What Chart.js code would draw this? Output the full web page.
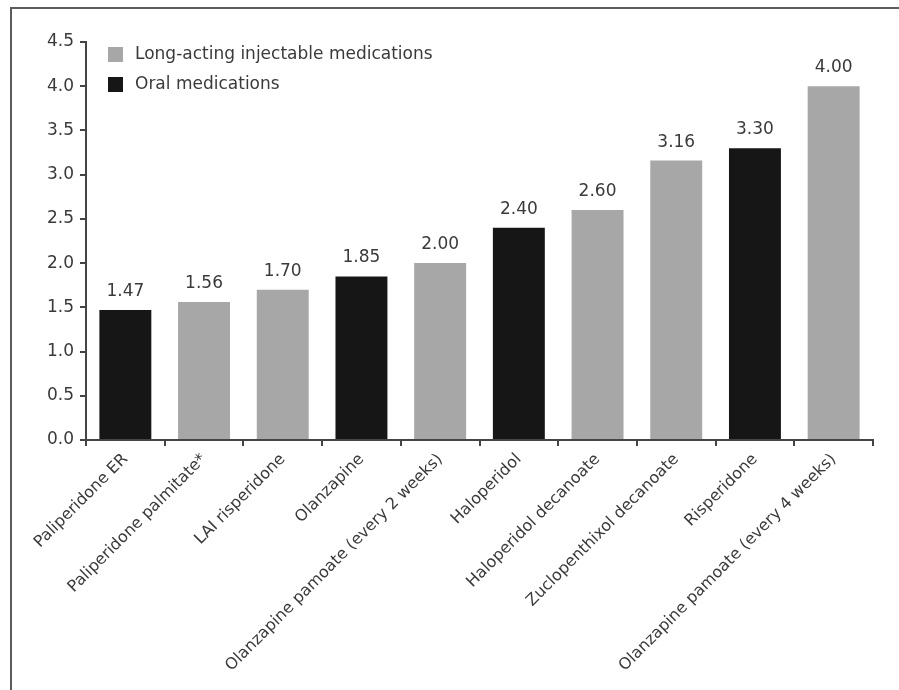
<!DOCTYPE html>
<html>
<head>
<meta charset="utf-8">
<script src="https://cdn.jsdelivr.net/npm/chart.js@4/dist/chart.umd.min.js"></script>
<style>
  html, body { margin: 0; padding: 0; background: #fff; }
  #wrap { width: 899px; height: 690px; position: relative; }
</style>
</head>
<body>
<div id="wrap"><canvas id="c" width="899" height="690"></canvas></div>
<script>
// Medication names along the x axis
const categories = [
  'Paliperidone ER',
  'Paliperidone palmitate*',
  'LAI risperidone',
  'Olanzapine',
  'Olanzapine pamoate (every 2 weeks)',
  'Haloperidol',
  'Haloperidol decanoate',
  'Zuclopenthixol decanoate',
  'Risperidone',
  'Olanzapine pamoate (every 4 weeks)'
];
// Long-acting injectable values (null where the medication is oral)
const laiValues = [null, 1.56, 1.70, null, 2.00, null, 2.60, 3.16, null, 4.00];
// Oral medication values (null where the medication is long-acting)
const oralValues = [1.47, null, null, 1.85, null, 2.40, null, null, 3.30, null];
const seriesNames = ['Long-acting injectable medications', 'Oral medications'];
const yTicks = [0, 0.5, 1.0, 1.5, 2.0, 2.5, 3.0, 3.5, 4.0, 4.5];

const GREY = '#a7a7a7';
const BLACK = '#161616';
const TEXT = '#3a3a3a';
const FONT = '"DejaVu Sans", Verdana, sans-serif';

// Outer frame lines (top and left)
const framePlugin = {
  id: 'frame',
  beforeDraw(chart) {
    const ctx = chart.ctx;
    ctx.save();
    ctx.fillStyle = '#5c5c5c';
    ctx.fillRect(10, 7, chart.width - 10, 2);
    ctx.fillRect(10, 7, 2, chart.height - 7);
    ctx.restore();
  }
};

// Value labels above each bar
const valueLabels = {
  id: 'valueLabels',
  afterDatasetsDraw(chart) {
    const ctx = chart.ctx;
    ctx.save();
    ctx.font = '17px ' + FONT;
    ctx.fillStyle = TEXT;
    ctx.textAlign = 'center';
    ctx.textBaseline = 'alphabetic';
    chart.data.datasets.forEach((ds, di) => {
      const meta = chart.getDatasetMeta(di);
      ds.data.forEach((v, i) => {
        if (v === null) return;
        const bar = meta.data[i];
        ctx.fillText(v.toFixed(2), bar.x, bar.y - 14);
      });
    });
    ctx.restore();
  }
};

// Legend stacked in the upper-left of the plot
const innerLegend = {
  id: 'innerLegend',
  afterDraw(chart) {
    const ctx = chart.ctx;
    const x0 = chart.chartArea.left + 22;
    const rows = [54, 84];
    ctx.save();
    ctx.font = '17px ' + FONT;
    ctx.textBaseline = 'middle';
    chart.data.datasets.forEach((ds, i) => {
      const y = rows[i];
      ctx.fillStyle = ds.backgroundColor;
      ctx.fillRect(x0, y - 7, 15, 15);
      ctx.fillStyle = TEXT;
      ctx.fillText(ds.label, x0 + 27, y + 1);
    });
    ctx.restore();
  }
};

new Chart(document.getElementById('c'), {
  type: 'bar',
  data: {
    labels: categories,
    datasets: [
      { label: seriesNames[0], data: laiValues, backgroundColor: GREY },
      { label: seriesNames[1], data: oralValues, backgroundColor: BLACK }
    ]
  },
  options: {
    responsive: false,
    animation: false,
    devicePixelRatio: 1,
    layout: { padding: { left: 20, top: 42, right: 26, bottom: 0 } },
    plugins: { legend: { display: false }, tooltip: { enabled: false } },
    datasets: { bar: { grouped: false, barPercentage: 0.66, categoryPercentage: 1.0 } },
    scales: {
      x: {
        grid: { display: true, drawOnChartArea: false, offset: true, tickLength: 6, tickColor: '#444', lineWidth: 2 },
        border: { color: '#444', width: 2 },
        ticks: {
          autoSkip: false, maxRotation: 45, minRotation: 45, padding: 4,
          color: TEXT, font: { family: FONT, size: 16 }
        },
        afterFit(scale) { scale.height = 250; }
      },
      y: {
        min: 0, max: 4.5,
        afterBuildTicks(scale) { scale.ticks = yTicks.map(v => ({ value: v })); },
        grid: { display: true, drawOnChartArea: false, tickLength: 6, tickColor: '#444', lineWidth: 2 },
        border: { color: '#444', width: 2 },
        ticks: {
          padding: 6, color: TEXT, font: { family: FONT, size: 17 },
          callback: v => Number(v).toFixed(1)
        },
        afterFit(scale) { scale.width = 66; }
      }
    }
  },
  plugins: [framePlugin, valueLabels, innerLegend]
});
</script>
</body>
</html>
